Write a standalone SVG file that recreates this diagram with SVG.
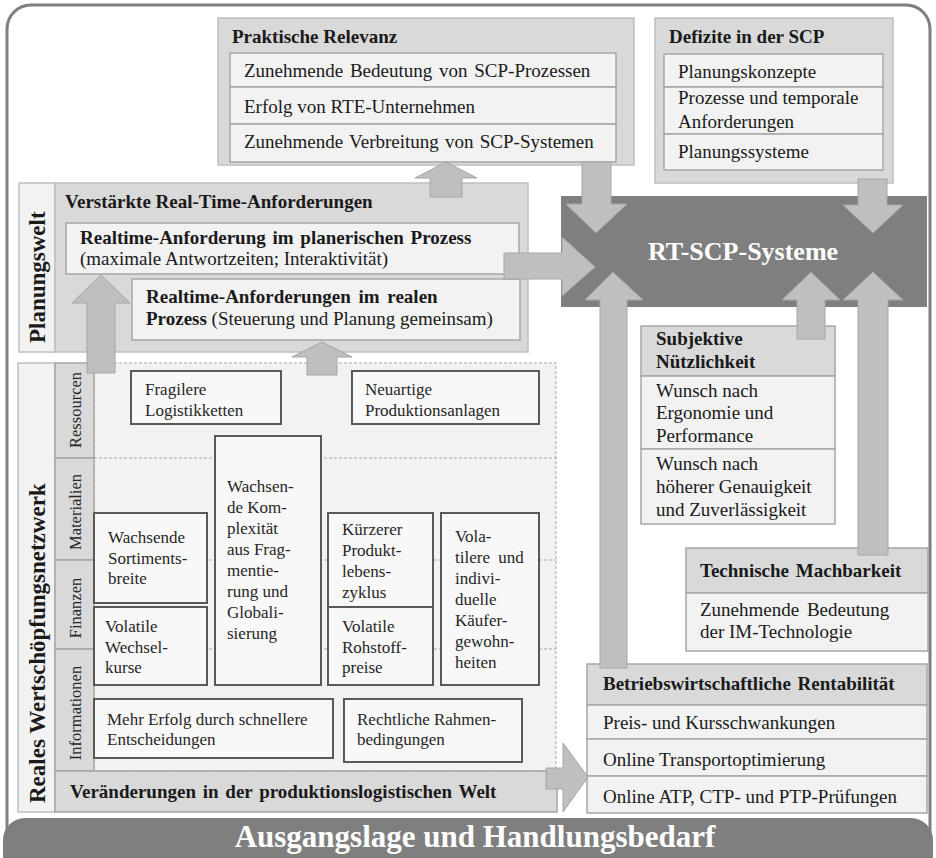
<svg xmlns="http://www.w3.org/2000/svg" width="936" height="858" viewBox="0 0 936 858">
<style>
text{font-family:"Liberation Serif","Times New Roman",serif;fill:#1a1a1a}
.h{font-size:19px;font-weight:bold}
.r{font-size:19px}
.s{font-size:17px;fill:#262626}
.cat{font-size:16.5px;fill:#262626}
.side{font-size:23px;font-weight:bold}
.box{fill:#d9d9d9;stroke:#bfbfbf;stroke-width:1.5}
.hd{fill:#d9d9d9;stroke:#a6a6a6;stroke-width:1.5}
.row{fill:#f2f2f2;stroke:#a6a6a6;stroke-width:1.5}
.lab{fill:#f2f2f2;stroke:#bfbfbf;stroke-width:1.5}
.card{fill:#f8f8f8;stroke:#595959;stroke-width:2}
.dash{fill:none;stroke:#a6a6a6;stroke-width:1;stroke-dasharray:3 2}
.arr{fill:#bfbfbf;stroke:#a6a6a6;stroke-width:1}
.w{fill:#ffffff;font-weight:bold}
</style>
<rect x="7" y="5" width="923" height="850" rx="24" fill="#ffffff" stroke="#7f7f7f" stroke-width="3"/>

<g id="praktische-relevanz">
<rect class="box" x="218" y="18" width="416" height="147"/>
<text class="h" x="232" y="43">Praktische Relevanz</text>
<rect class="row" x="230" y="53" width="386" height="34"/>
<rect class="row" x="230" y="87" width="386" height="37"/>
<rect class="row" x="230" y="124" width="386" height="38"/>
<text class="r" x="244" y="77" word-spacing="2">Zunehmende Bedeutung von SCP-Prozessen</text>
<text class="r" x="244" y="113">Erfolg von RTE-Unternehmen</text>
<text class="r" x="244" y="148" word-spacing="1.5">Zunehmende Verbreitung von SCP-Systemen</text>
</g>

<g id="defizite">
<rect class="box" x="655" y="18" width="238" height="165"/>
<text class="h" x="669" y="43">Defizite in der SCP</text>
<rect class="row" x="664" y="54" width="219" height="33"/>
<rect class="row" x="664" y="87" width="219" height="47"/>
<rect class="row" x="664" y="134" width="219" height="36"/>
<text class="r" x="678" y="78">Planungskonzepte</text>
<text class="r" x="678" y="104">Prozesse und temporale</text>
<text class="r" x="678" y="128">Anforderungen</text>
<text class="r" x="678" y="158">Planungssysteme</text>
</g>

<g id="rt-scp-systeme">
<rect x="561" y="196" width="366" height="111" fill="#7f7f7f"/>
<text class="w" x="743" y="260" font-size="26" text-anchor="middle">RT-SCP-Systeme</text>
</g>

<g id="planungswelt">
<rect class="lab" x="19" y="183" width="36" height="169"/>
<rect class="box" x="55" y="183" width="473" height="169"/>
<text class="side" transform="translate(45,343) rotate(-90)">Planungswelt</text>
<text class="h" x="65" y="208">Verstärkte Real-Time-Anforderungen</text>
<rect class="row" x="66" y="223" width="453" height="51"/>
<text class="h" x="80" y="244" word-spacing="2">Realtime-Anforderung im planerischen Prozess</text>
<text class="r" x="80" y="265">(maximale Antwortzeiten; Interaktivität)</text>
<rect class="row" x="132" y="279" width="388" height="61"/>
<text class="h" x="146" y="303" word-spacing="3">Realtime-Anforderungen im realen</text>
<text class="r" x="146" y="325"><tspan font-weight="bold">Prozess</tspan> (Steuerung und Planung gemeinsam)</text>
</g>

<g id="reales-wertschoepfungsnetzwerk">
<rect class="lab" x="18" y="363" width="37" height="449"/>
<text class="side" transform="translate(45,803) rotate(-90)">Reales Wertschöpfungsnetzwerk</text>
<rect x="94" y="363" width="462" height="408" fill="#f2f2f2" stroke="#a6a6a6" stroke-width="1" stroke-dasharray="3 2"/>
<line class="dash" x1="94" y1="458" x2="556" y2="458"/>
<line class="dash" x1="94" y1="560" x2="556" y2="560"/>
<line class="dash" x1="94" y1="649" x2="556" y2="649"/>
<rect class="hd" x="55" y="363" width="39" height="95"/>
<rect class="hd" x="55" y="458" width="39" height="102"/>
<rect class="hd" x="55" y="560" width="39" height="89"/>
<rect class="hd" x="55" y="649" width="39" height="122"/>
<text class="cat" transform="translate(81,410) rotate(-90)" text-anchor="middle">Ressourcen</text>
<text class="cat" transform="translate(81,512) rotate(-90)" text-anchor="middle">Materialien</text>
<text class="cat" transform="translate(81,608) rotate(-90)" text-anchor="middle">Finanzen</text>
<text class="cat" transform="translate(81,713) rotate(-90)" text-anchor="middle">Informationen</text>
<rect class="hd" x="55" y="771" width="502" height="41"/>
<text class="h" x="70" y="798" word-spacing="2">Veränderungen in der produktionslogistischen Welt</text>
</g>

<g id="fragilere-logistikketten">
<rect class="card" x="131" y="371" width="150" height="53"/>
<text class="s" x="145" y="395">Fragilere</text>
<text class="s" x="145" y="416">Logistikketten</text>
</g>
<g id="neuartige-produktionsanlagen">
<rect class="card" x="352" y="371" width="187" height="53"/>
<text class="s" x="365" y="395">Neuartige</text>
<text class="s" x="365" y="416">Produktionsanlagen</text>
</g>
<g id="wachsende-komplexitaet">
<rect class="card" x="215" y="436" width="106" height="249"/>
<text class="s" x="227" y="492">Wachsen-</text>
<text class="s" x="227" y="513">de Kom-</text>
<text class="s" x="227" y="534">plexität</text>
<text class="s" x="227" y="555">aus Frag-</text>
<text class="s" x="227" y="576">mentie-</text>
<text class="s" x="227" y="597">rung und</text>
<text class="s" x="227" y="618">Globali-</text>
<text class="s" x="227" y="639">sierung</text>
</g>
<g id="sortimentsbreite">
<rect class="card" x="94" y="513" width="113" height="90"/>
<text class="s" x="108" y="543">Wachsende</text>
<text class="s" x="108" y="564">Sortiments-</text>
<text class="s" x="108" y="584">breite</text>
</g>
<g id="wechselkurse">
<rect class="card" x="94" y="607" width="113" height="78"/>
<text class="s" x="105" y="632">Volatile</text>
<text class="s" x="105" y="653">Wechsel-</text>
<text class="s" x="105" y="673">kurse</text>
</g>
<g id="produktlebenszyklus">
<rect class="card" x="328" y="513" width="105" height="94"/>
<text class="s" x="342" y="535">Kürzerer</text>
<text class="s" x="342" y="556">Produkt-</text>
<text class="s" x="342" y="577">lebens-</text>
<text class="s" x="342" y="598">zyklus</text>
</g>
<g id="rohstoffpreise">
<rect class="card" x="328" y="607" width="105" height="78"/>
<text class="s" x="342" y="632">Volatile</text>
<text class="s" x="342" y="653">Rohstoff-</text>
<text class="s" x="342" y="673">preise</text>
</g>
<g id="kaeufergewohnheiten">
<rect class="card" x="441" y="513" width="98" height="172"/>
<text class="s" x="455" y="542">Vola-</text>
<text class="s" x="455" y="563" word-spacing="4">tilere und</text>
<text class="s" x="455" y="584">indivi-</text>
<text class="s" x="455" y="605">duelle</text>
<text class="s" x="455" y="626">Käufer-</text>
<text class="s" x="455" y="647">gewohn-</text>
<text class="s" x="455" y="668">heiten</text>
</g>
<g id="schnellere-entscheidungen">
<rect class="card" x="94" y="699" width="239" height="59"/>
<text class="s" x="107" y="725">Mehr Erfolg durch schnellere</text>
<text class="s" x="107" y="745">Entscheidungen</text>
</g>
<g id="rahmenbedingungen">
<rect class="card" x="344" y="699" width="178" height="63"/>
<text class="s" x="357" y="725">Rechtliche Rahmen-</text>
<text class="s" x="357" y="745">bedingungen</text>
</g>

<g id="subjektive-nuetzlichkeit">
<rect class="hd" x="641" y="326" width="194" height="50"/>
<text class="h" x="656" y="345">Subjektive</text>
<text class="h" x="656" y="368">Nützlichkeit</text>
<rect class="row" x="641" y="376" width="194" height="73"/>
<rect class="row" x="641" y="449" width="194" height="75"/>
<text class="r" x="656" y="397">Wunsch nach</text>
<text class="r" x="656" y="419">Ergonomie und</text>
<text class="r" x="656" y="442">Performance</text>
<text class="r" x="656" y="470">Wunsch nach</text>
<text class="r" x="656" y="493">höherer Genauigkeit</text>
<text class="r" x="656" y="516">und Zuverlässigkeit</text>
</g>

<g id="technische-machbarkeit">
<rect class="hd" x="686" y="548" width="242" height="45"/>
<text class="h" x="700" y="577" word-spacing="2">Technische Machbarkeit</text>
<rect class="row" x="686" y="593" width="242" height="58"/>
<text class="r" x="700" y="616" word-spacing="3">Zunehmende Bedeutung</text>
<text class="r" x="700" y="638">der IM-Technologie</text>
</g>

<g id="betriebswirtschaftliche-rentabilitaet">
<rect class="hd" x="587" y="664" width="340" height="41"/>
<text class="h" x="603" y="690" word-spacing="2">Betriebswirtschaftliche Rentabilität</text>
<rect class="row" x="587" y="705" width="340" height="34"/>
<rect class="row" x="587" y="739" width="340" height="37"/>
<rect class="row" x="587" y="776" width="340" height="37"/>
<text class="r" x="603" y="729">Preis- und Kursschwankungen</text>
<text class="r" x="603" y="766">Online Transportoptimierung</text>
<text class="r" x="603" y="803">Online ATP, CTP- und PTP-Prüfungen</text>
</g>

<g id="connectors">
<polygon class="arr" points="446,162 477,178 462,178 462,197 430,197 430,178 415,178"/>
<polygon class="arr" points="101,275 130,303 115,303 115,373 87,373 87,303 72,303"/>
<polygon class="arr" points="322,342 352,357 337,357 337,375 307,375 307,357 292,357"/>
<polygon class="arr" points="582,162 611,162 611,204 627,204 596,233 566,204 582,204"/>
<polygon class="arr" points="858,179 887,179 887,205 903,205 873,233 843,205 858,205"/>
<polygon class="arr" points="504,253 562,253 562,237 595,267 562,296 562,279 504,279"/>
<polygon class="arr" points="613,272 643,300 627,300 627,668 600,668 600,300 585,300"/>
<polygon class="arr" points="811,272 840,300 825,300 825,339 797,339 797,300 782,300"/>
<polygon class="arr" points="873,272 903,300 888,300 888,555 858,555 858,300 843,300"/>
<polygon class="arr" points="546,768 563,768 563,743 588,777 563,812 563,789 546,789"/>
</g>

<g id="banner">
<rect x="3" y="818" width="930" height="60" rx="22" fill="#7f7f7f"/>
<text class="w" x="475" y="847" font-size="31" text-anchor="middle">Ausgangslage und Handlungsbedarf</text>
</g>
</svg>
